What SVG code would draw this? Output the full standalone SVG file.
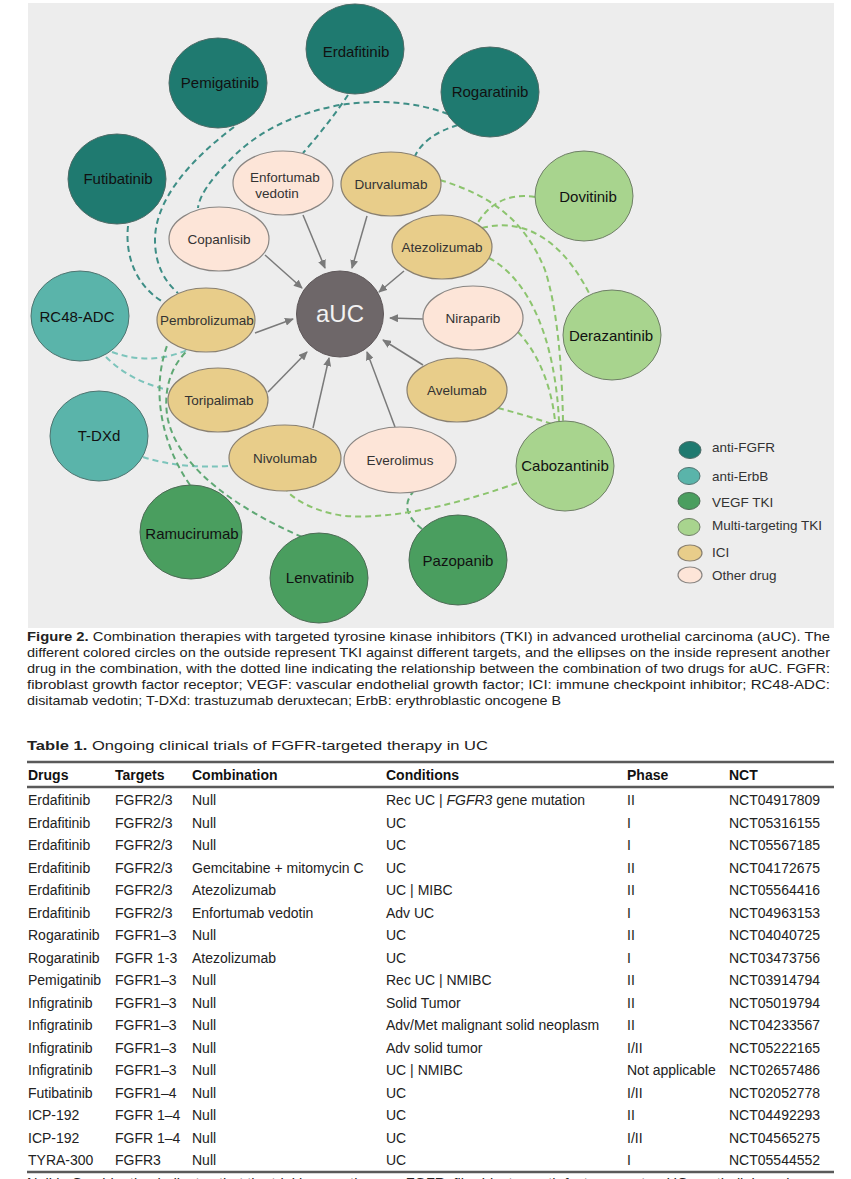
<svg xmlns="http://www.w3.org/2000/svg" width="851" height="1179" viewBox="0 0 851 1179">
<style>
text{font-family:"Liberation Sans",Arial,sans-serif;}
.fgfr{fill:#1f7a70;stroke:#4d6b67;stroke-width:1}
.erbb{fill:#5ab4aa;stroke:#4f7470;stroke-width:1}
.vegf{fill:#4a9e5f;stroke:#4d6b55;stroke-width:1}
.multi{fill:#a8d48e;stroke:#6f7f66;stroke-width:1}
.ici{fill:#e8cd8a;stroke:#8a8070;stroke-width:1.2}
.other{fill:#fde5d8;stroke:#8a8683;stroke-width:1.2}
.auc{fill:#6e6769;stroke:#5e5759;stroke-width:1}
.lbl{font-size:15px;fill:#111;text-anchor:middle}
.ilbl{font-size:13.5px;fill:#333;text-anchor:middle}
.dash{fill:none;stroke-width:2;stroke-dasharray:6 4}
.df{stroke:#3e8e86}
.de{stroke:#7cc4bb}
.dv{stroke:#5fa874}
.dm{stroke:#8cc46e}
.arr{fill:none;stroke:#7a7a7a;stroke-width:1.5;marker-end:url(#ah)}
.leg{font-size:13.5px;fill:#333}
.cap{font-size:13px;fill:#222}
.tb{font-size:14px;fill:#222}
.th{font-size:14px;fill:#111;font-weight:bold}
.rule{stroke:#5a5a5a;stroke-width:2.5}
</style>
<defs>
<marker id="ah" markerUnits="userSpaceOnUse" markerWidth="9" markerHeight="8" refX="8" refY="4" orient="auto">
<path d="M0,0 L9,4 L0,8 z" fill="#7a7a7a"/>
</marker>
</defs>
<rect x="0" y="0" width="851" height="1179" fill="#ffffff"/>
<rect x="28" y="3" width="806" height="625" fill="#ededed"/>

<g id="connectors">
<path class="dash df" d="M348,95 Q330,122 303,153"/>
<path class="dash df" d="M448,114 Q400,96 340,105 Q270,118 230,160 Q200,190 198,208"/>
<path class="dash df" d="M234,127 C190,160 155,200 155,240 C155,265 165,282 178,293"/>
<path class="dash df" d="M128,226 C125,255 135,285 163,302"/>
<path class="dash df" d="M458,125 Q425,135 415,156"/>
<path class="dash de" d="M112,352 Q150,366 187,350"/>
<path class="dash de" d="M106,357 Q130,381 168,390"/>
<path class="dash de" d="M143,457 Q180,469 229,466"/>
<path class="dash dv" d="M190,485 C162,445 150,390 168,343"/>
<path class="dash dv" d="M302,537 C240,510 180,470 168,420 C162,390 172,365 187,351"/>
<path class="dash dv" d="M422,529 Q398,510 413,492"/>
<path class="dash dm" d="M517,483 C470,500 400,520 345,516 C315,512 295,500 287,491"/>
<path class="dash dm" d="M498,408 Q525,415 552,424"/>
<path class="dash dm" d="M518,332 C540,355 552,390 555,421"/>
<path class="dash dm" d="M489,258 C530,280 555,340 559,421"/>
<path class="dash dm" d="M440,180 C490,195 525,220 545,270 C558,310 562,370 563,421"/>
<path class="dash dm" d="M535,197 C510,193 490,202 477,224"/>
<path class="dash dm" d="M482,228 C520,218 560,235 590,295"/>
<path class="arr" d="M303,215 L325,268"/>
<path class="arr" d="M367,216 L352,268"/>
<path class="arr" d="M265,255 L302,288"/>
<path class="arr" d="M404,271 L379,292"/>
<path class="arr" d="M423,319 L390,318"/>
<path class="arr" d="M423,365 L383,340"/>
<path class="arr" d="M255,333 L293,319"/>
<path class="arr" d="M268,392 L307,352"/>
<path class="arr" d="M313,428 L329,358"/>
<path class="arr" d="M395,427 L367,352"/>
</g>

<g id="erdafitinib"><ellipse class="fgfr" cx="355" cy="49" rx="49" ry="45"/><text class="lbl" x="356" y="57">Erdafitinib</text></g>
<g id="pemigatinib"><ellipse class="fgfr" cx="218" cy="83" rx="49" ry="45"/><text class="lbl" x="220" y="88">Pemigatinib</text></g>
<g id="futibatinib"><ellipse class="fgfr" cx="117" cy="179" rx="49" ry="45"/><text class="lbl" x="118" y="184">Futibatinib</text></g>
<g id="rogaratinib"><ellipse class="fgfr" cx="490" cy="92" rx="49" ry="45"/><text class="lbl" x="490" y="97">Rogaratinib</text></g>
<g id="rc48-adc"><ellipse class="erbb" cx="80" cy="316" rx="49" ry="45"/><text class="lbl" x="77" y="322">RC48-ADC</text></g>
<g id="t-dxd"><ellipse class="erbb" cx="99" cy="436" rx="49" ry="45"/><text class="lbl" x="99" y="441">T-DXd</text></g>
<g id="ramucirumab"><ellipse class="vegf" cx="191" cy="532" rx="51" ry="47"/><text class="lbl" x="192" y="539">Ramucirumab</text></g>
<g id="lenvatinib"><ellipse class="vegf" cx="319" cy="578" rx="49" ry="45"/><text class="lbl" x="320" y="583">Lenvatinib</text></g>
<g id="pazopanib"><ellipse class="vegf" cx="458" cy="560" rx="49" ry="45"/><text class="lbl" x="458" y="566">Pazopanib</text></g>
<g id="dovitinib"><ellipse class="multi" cx="584" cy="196" rx="49" ry="45"/><text class="lbl" x="588" y="202">Dovitinib</text></g>
<g id="derazantinib"><ellipse class="multi" cx="612" cy="335" rx="49" ry="45"/><text class="lbl" x="611" y="341">Derazantinib</text></g>
<g id="cabozantinib"><ellipse class="multi" cx="565" cy="466" rx="49" ry="45"/><text class="lbl" x="565" y="471">Cabozantinib</text></g>

<g id="enfortumab-vedotin"><ellipse class="other" cx="283" cy="183" rx="50" ry="32"/><text class="ilbl" x="285" y="182">Enfortumab</text><text class="ilbl" x="277" y="198">vedotin</text></g>
<g id="durvalumab"><ellipse class="ici" cx="391" cy="184" rx="50" ry="32"/><text class="ilbl" x="391" y="189">Durvalumab</text></g>
<g id="copanlisib"><ellipse class="other" cx="219" cy="239" rx="50" ry="32"/><text class="ilbl" x="219" y="244">Copanlisib</text></g>
<g id="atezolizumab"><ellipse class="ici" cx="442" cy="247" rx="50" ry="32"/><text class="ilbl" x="442" y="252">Atezolizumab</text></g>
<g id="niraparib"><ellipse class="other" cx="473" cy="318" rx="50" ry="32"/><text class="ilbl" x="473" y="323">Niraparib</text></g>
<g id="avelumab"><ellipse class="ici" cx="457" cy="390" rx="50" ry="32"/><text class="ilbl" x="457" y="395">Avelumab</text></g>
<g id="pembrolizumab"><ellipse class="ici" cx="206" cy="320" rx="49" ry="32"/><text class="ilbl" x="207" y="325">Pembrolizumab</text></g>
<g id="toripalimab"><ellipse class="ici" cx="218" cy="400" rx="50" ry="32"/><text class="ilbl" x="219" y="405">Toripalimab</text></g>
<g id="nivolumab"><ellipse class="ici" cx="285" cy="458" rx="56" ry="33"/><text class="ilbl" x="285" y="463">Nivolumab</text></g>
<g id="everolimus"><ellipse class="other" cx="400" cy="460" rx="56" ry="33"/><text class="ilbl" x="400" y="465">Everolimus</text></g>
<g id="auc"><ellipse class="auc" cx="340" cy="314" rx="43.5" ry="43"/><text x="340" y="322" font-size="24" fill="#f2f2f2" text-anchor="middle">aUC</text></g>

<g id="legend">
<ellipse class="fgfr" cx="690" cy="450" rx="11" ry="8.5"/><text class="leg" x="712" y="452">anti-FGFR</text>
<ellipse class="erbb" cx="689" cy="476" rx="11" ry="8.5"/><text class="leg" x="712" y="481">anti-ErbB</text>
<ellipse class="vegf" cx="689" cy="501" rx="11" ry="8.5"/><text class="leg" x="712" y="507">VEGF TKI</text>
<ellipse class="multi" cx="689" cy="527" rx="11" ry="8.5"/><text class="leg" x="712" y="530">Multi-targeting TKI</text>
<ellipse class="ici" cx="690" cy="553" rx="12" ry="8"/><text class="leg" x="712" y="557">ICI</text>
<ellipse class="other" cx="690" cy="575" rx="12" ry="8"/><text class="leg" x="712" y="580">Other drug</text>
</g>

<g id="caption">
<text class="cap" x="27" y="641" textLength="803" lengthAdjust="spacingAndGlyphs"><tspan font-weight="bold">Figure 2.</tspan> Combination therapies with targeted tyrosine kinase inhibitors (TKI) in advanced urothelial carcinoma (aUC). The</text>
<text class="cap" x="27" y="657" textLength="803" lengthAdjust="spacingAndGlyphs">different colored circles on the outside represent TKI against different targets, and the ellipses on the inside represent another</text>
<text class="cap" x="27" y="673" textLength="803" lengthAdjust="spacingAndGlyphs">drug in the combination, with the dotted line indicating the relationship between the combination of two drugs for aUC. FGFR:</text>
<text class="cap" x="27" y="689" textLength="803" lengthAdjust="spacingAndGlyphs">fibroblast growth factor receptor; VEGF: vascular endothelial growth factor; ICI: immune checkpoint inhibitor; RC48-ADC:</text>
<text class="cap" x="27" y="705" textLength="534" lengthAdjust="spacingAndGlyphs">disitamab vedotin; T-DXd: trastuzumab deruxtecan; ErbB: erythroblastic oncogene B</text>
<text class="cap" x="27" y="750" textLength="461" lengthAdjust="spacingAndGlyphs"><tspan font-weight="bold">Table 1.</tspan> Ongoing clinical trials of FGFR-targeted therapy in UC</text>
</g>

<g id="table">
<line class="rule" x1="27" y1="762" x2="834" y2="762"/>
<line class="rule" x1="27" y1="787" x2="834" y2="787"/>
<line class="rule" x1="27" y1="1172" x2="834" y2="1172"/>
<text class="th" y="780"><tspan x="28">Drugs</tspan><tspan x="115">Targets</tspan><tspan x="192">Combination</tspan><tspan x="386">Conditions</tspan><tspan x="627">Phase</tspan><tspan x="729">NCT</tspan></text>
<text class="tb" y="805"><tspan x="28">Erdafitinib</tspan><tspan x="115">FGFR2/3</tspan><tspan x="192">Null</tspan><tspan x="386">Rec UC | </tspan><tspan font-style="italic">FGFR3</tspan><tspan> gene mutation</tspan><tspan x="627">II</tspan><tspan x="729">NCT04917809</tspan></text>
<text class="tb" y="827.5"><tspan x="28">Erdafitinib</tspan><tspan x="115">FGFR2/3</tspan><tspan x="192">Null</tspan><tspan x="386">UC</tspan><tspan x="627">I</tspan><tspan x="729">NCT05316155</tspan></text>
<text class="tb" y="850"><tspan x="28">Erdafitinib</tspan><tspan x="115">FGFR2/3</tspan><tspan x="192">Null</tspan><tspan x="386">UC</tspan><tspan x="627">I</tspan><tspan x="729">NCT05567185</tspan></text>
<text class="tb" y="872.5"><tspan x="28">Erdafitinib</tspan><tspan x="115">FGFR2/3</tspan><tspan x="192">Gemcitabine + mitomycin C</tspan><tspan x="386">UC</tspan><tspan x="627">II</tspan><tspan x="729">NCT04172675</tspan></text>
<text class="tb" y="895"><tspan x="28">Erdafitinib</tspan><tspan x="115">FGFR2/3</tspan><tspan x="192">Atezolizumab</tspan><tspan x="386">UC | MIBC</tspan><tspan x="627">II</tspan><tspan x="729">NCT05564416</tspan></text>
<text class="tb" y="917.5"><tspan x="28">Erdafitinib</tspan><tspan x="115">FGFR2/3</tspan><tspan x="192">Enfortumab vedotin</tspan><tspan x="386">Adv UC</tspan><tspan x="627">I</tspan><tspan x="729">NCT04963153</tspan></text>
<text class="tb" y="940"><tspan x="28">Rogaratinib</tspan><tspan x="115">FGFR1–3</tspan><tspan x="192">Null</tspan><tspan x="386">UC</tspan><tspan x="627">II</tspan><tspan x="729">NCT04040725</tspan></text>
<text class="tb" y="962.5"><tspan x="28">Rogaratinib</tspan><tspan x="115">FGFR 1-3</tspan><tspan x="192">Atezolizumab</tspan><tspan x="386">UC</tspan><tspan x="627">I</tspan><tspan x="729">NCT03473756</tspan></text>
<text class="tb" y="985"><tspan x="28">Pemigatinib</tspan><tspan x="115">FGFR1–3</tspan><tspan x="192">Null</tspan><tspan x="386">Rec UC | NMIBC</tspan><tspan x="627">II</tspan><tspan x="729">NCT03914794</tspan></text>
<text class="tb" y="1007.5"><tspan x="28">Infigratinib</tspan><tspan x="115">FGFR1–3</tspan><tspan x="192">Null</tspan><tspan x="386">Solid Tumor</tspan><tspan x="627">II</tspan><tspan x="729">NCT05019794</tspan></text>
<text class="tb" y="1030"><tspan x="28">Infigratinib</tspan><tspan x="115">FGFR1–3</tspan><tspan x="192">Null</tspan><tspan x="386">Adv/Met malignant solid neoplasm</tspan><tspan x="627">II</tspan><tspan x="729">NCT04233567</tspan></text>
<text class="tb" y="1052.5"><tspan x="28">Infigratinib</tspan><tspan x="115">FGFR1–3</tspan><tspan x="192">Null</tspan><tspan x="386">Adv solid tumor</tspan><tspan x="627">I/II</tspan><tspan x="729">NCT05222165</tspan></text>
<text class="tb" y="1075"><tspan x="28">Infigratinib</tspan><tspan x="115">FGFR1–3</tspan><tspan x="192">Null</tspan><tspan x="386">UC | NMIBC</tspan><tspan x="627">Not applicable</tspan><tspan x="729">NCT02657486</tspan></text>
<text class="tb" y="1097.5"><tspan x="28">Futibatinib</tspan><tspan x="115">FGFR1–4</tspan><tspan x="192">Null</tspan><tspan x="386">UC</tspan><tspan x="627">I/II</tspan><tspan x="729">NCT02052778</tspan></text>
<text class="tb" y="1120"><tspan x="28">ICP-192</tspan><tspan x="115">FGFR 1–4</tspan><tspan x="192">Null</tspan><tspan x="386">UC</tspan><tspan x="627">II</tspan><tspan x="729">NCT04492293</tspan></text>
<text class="tb" y="1142.5"><tspan x="28">ICP-192</tspan><tspan x="115">FGFR 1–4</tspan><tspan x="192">Null</tspan><tspan x="386">UC</tspan><tspan x="627">I/II</tspan><tspan x="729">NCT04565275</tspan></text>
<text class="tb" y="1165"><tspan x="28">TYRA-300</tspan><tspan x="115">FGFR3</tspan><tspan x="192">Null</tspan><tspan x="386">UC</tspan><tspan x="627">I</tspan><tspan x="729">NCT05544552</tspan></text>
<text class="cap" x="27" y="1187" textLength="803" lengthAdjust="spacingAndGlyphs">Null in Combination indicates that the trial is monotherapy. FGFR: fibroblast growth factor receptor; UC: urothelial carcinoma;</text>
</g>
</svg>
